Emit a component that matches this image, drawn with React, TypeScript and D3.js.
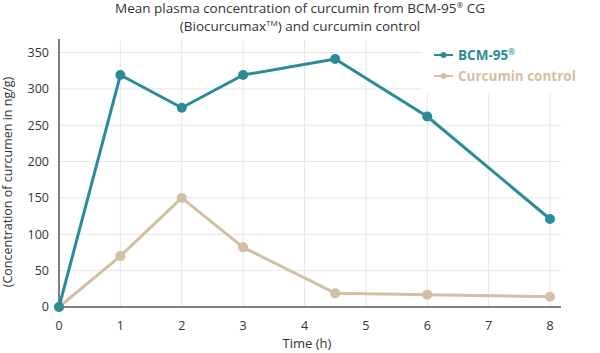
import * as d3 from "d3";
import React, { useRef, useEffect } from "react";

const hours = [0, 1, 2, 3, 4.5, 6, 8];
const bcmValues = [0, 319, 274, 319, 341, 262, 121];
const controlValues = [0, 70, 150, 82, 19, 17, 14];
const xTicks = [0, 1, 2, 3, 4, 5, 6, 7, 8];
const yTicks = [0, 50, 100, 150, 200, 250, 300, 350];
const seriesNames = ["BCM-95®", "Curcumin control"];

const App = () => {
    const svgRef = useRef<HTMLDivElement>(null);

    useEffect(() => {
        const width = 600;
        const height = 353;
        const font = "'Open Sans', 'Noto Sans', sans-serif";
        const teal = "#2b8c97";
        const tan = "#d3bfa4";
        const textColor = "#333";

        const x = d3.scaleLinear().domain([0, 8]).range([59, 550]);
        const y = d3.scaleLinear().domain([0, 350]).range([307, 52.5]);

        const svg = d3.create("svg")
            .attr("width", width)
            .attr("height", height)
            .attr("viewBox", `0 0 ${width} ${height}`)
            .style("display", "block")
            .style("font-family", font);

        svg.append("rect").attr("width", width).attr("height", height).attr("fill", "#fff");

        // grid lines
        svg.append("g")
            .selectAll("line")
            .data(yTicks.slice(1))
            .join("line")
            .attr("x1", x(0)).attr("x2", 561)
            .attr("y1", d => y(d)).attr("y2", d => y(d))
            .attr("stroke", "#e6e6e6").attr("stroke-width", 1);

        svg.append("g")
            .selectAll("line")
            .data(xTicks.slice(1))
            .join("line")
            .attr("x1", d => x(d)).attr("x2", d => x(d))
            .attr("y1", 40).attr("y2", y(0))
            .attr("stroke", "#e6e6e6").attr("stroke-width", 1);

        // axis lines
        svg.append("line")
            .attr("x1", x(0)).attr("x2", x(0)).attr("y1", 39).attr("y2", y(0))
            .attr("stroke", "#555").attr("stroke-width", 1.5);
        svg.append("line")
            .attr("x1", x(0)).attr("x2", 561).attr("y1", y(0)).attr("y2", y(0))
            .attr("stroke", "#555").attr("stroke-width", 1.5);

        // tick labels
        svg.append("g")
            .selectAll("text")
            .data(yTicks)
            .join("text")
            .attr("x", 49).attr("y", d => y(d)).attr("dy", "0.35em")
            .attr("text-anchor", "end")
            .attr("font-size", 12.5).attr("fill", textColor)
            .text(d => d);

        svg.append("g")
            .selectAll("text")
            .data(xTicks)
            .join("text")
            .attr("x", d => x(d)).attr("y", 326).attr("dy", "0.35em")
            .attr("text-anchor", "middle")
            .attr("font-size", 12.5).attr("fill", textColor)
            .text(d => d);

        // axis titles
        svg.append("text")
            .attr("x", 307).attr("y", 348)
            .attr("text-anchor", "middle")
            .attr("font-size", 13).attr("fill", textColor)
            .text("Time (h)");

        svg.append("text")
            .attr("transform", `translate(12,${182}) rotate(-90)`)
            .attr("text-anchor", "middle")
            .attr("font-size", 12.5).attr("fill", textColor)
            .text("(Concentration of curcumen in ng/g)");

        // title
        const title = svg.append("text")
            .attr("text-anchor", "middle")
            .attr("font-size", 13.5).attr("fill", textColor);
        const l1 = title.append("tspan").attr("x", 300).attr("y", 13);
        l1.append("tspan").text("Mean plasma concentration of curcumin from BCM-95");
        l1.append("tspan").attr("font-size", 8).attr("dy", -5).text("®");
        l1.append("tspan").attr("dy", 5).text(" CG");
        const l2 = title.append("tspan").attr("x", 300).attr("y", 31);
        l2.append("tspan").text("(Biocurcumax");
        l2.append("tspan").attr("font-size", 8).attr("dy", -5).text("TM");
        l2.append("tspan").attr("dy", 5).text(") and curcumin control");

        // series
        const series = [
            { name: seriesNames[0], values: bcmValues, color: teal },
            { name: seriesNames[1], values: controlValues, color: tan },
        ];
        const line = d3.line<number>()
            .x((d, i) => x(hours[i]))
            .y(d => y(d));

        // draw control first so BCM sits on top
        [...series].reverse().forEach(s => {
            svg.append("path")
                .datum(s.values)
                .attr("d", line)
                .attr("fill", "none")
                .attr("stroke", s.color)
                .attr("stroke-width", 3)
                .attr("stroke-linejoin", "round");
            svg.append("g")
                .selectAll("circle")
                .data(s.values)
                .join("circle")
                .attr("cx", (d, i) => x(hours[i]))
                .attr("cy", d => y(d))
                .attr("r", 5)
                .attr("fill", s.color);
        });

        // legend
        svg.append("rect")
            .attr("x", 422).attr("y", 38).attr("width", 178).attr("height", 55)
            .attr("fill", "#fff");
        const legend = svg.append("g")
            .selectAll("g")
            .data(series)
            .join("g")
            .attr("transform", (d, i) => `translate(434,${55 + i * 21})`);
        legend.append("line")
            .attr("x1", 0).attr("x2", 19).attr("y1", 0).attr("y2", 0)
            .attr("stroke", d => d.color).attr("stroke-width", 2);
        legend.append("circle")
            .attr("cx", 9.5).attr("cy", 0).attr("r", 3)
            .attr("fill", d => d.color);
        const lt = legend.append("text")
            .attr("x", 24).attr("y", 0).attr("dy", "0.35em")
            .attr("font-size", 13.5).attr("font-weight", 700)
            .attr("fill", d => d.color);
        lt.each(function (d) {
            const t = d3.select(this);
            if (d.name.endsWith("®")) {
                t.append("tspan").text(d.name.slice(0, -1));
                t.append("tspan").attr("font-size", 8).attr("dy", -5).text("®");
            } else {
                t.text(d.name);
            }
        });

        if (svgRef.current) {
            svgRef.current.innerHTML = "";
            svgRef.current.appendChild(svg.node()!);
        }
    }, []);

    return <div ref={svgRef} style={{ position: "absolute", left: 0, top: 0 }}></div>;
};

export default App;
